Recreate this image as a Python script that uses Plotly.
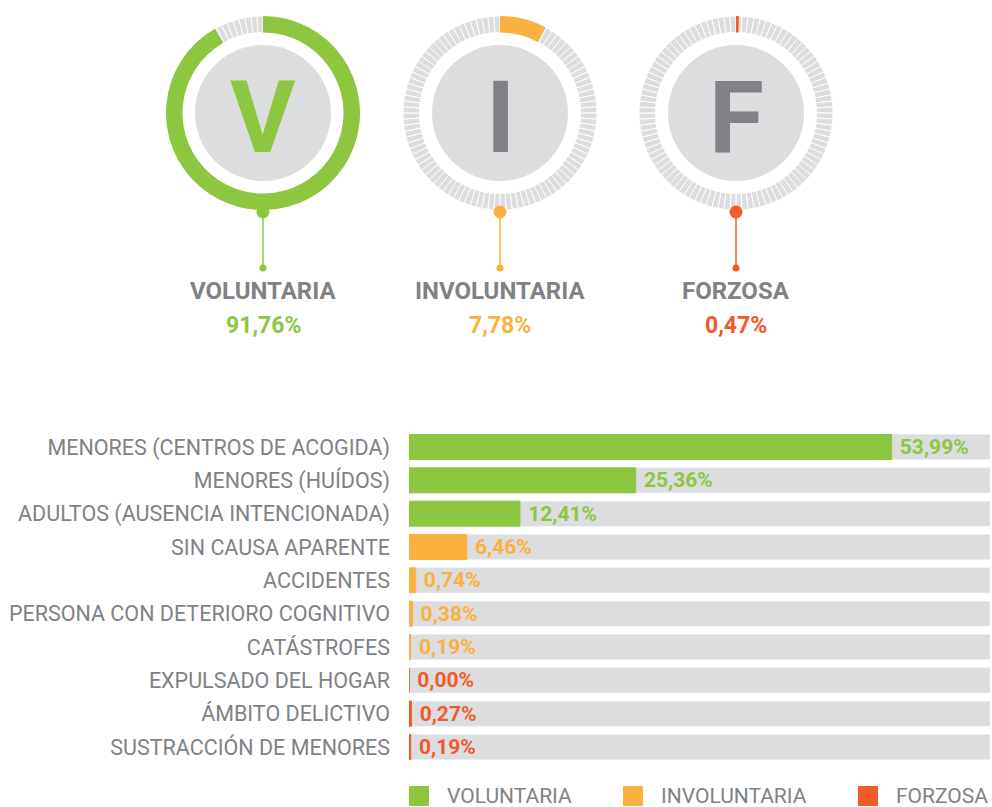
import plotly.graph_objects as go

# ---- data ----
types = ["VOLUNTARIA", "INVOLUNTARIA", "FORZOSA"]
type_pct = [91.76, 7.78, 0.47]
type_letter = ["V", "I", "F"]
type_colors = ["#8dc63f", "#fbb040", "#f15a29"]

causes = [
    "MENORES (CENTROS DE ACOGIDA)",
    "MENORES (HUÍDOS)",
    "ADULTOS (AUSENCIA INTENCIONADA)",
    "SIN CAUSA APARENTE",
    "ACCIDENTES",
    "PERSONA CON DETERIORO COGNITIVO",
    "CATÁSTROFES",
    "EXPULSADO DEL HOGAR",
    "ÁMBITO DELICTIVO",
    "SUSTRACCIÓN DE MENORES",
]
cause_pct = [53.99, 25.36, 12.41, 6.46, 0.74, 0.38, 0.19, 0.00, 0.27, 0.19]
cause_type = ["VOLUNTARIA"] * 3 + ["INVOLUNTARIA"] * 4 + ["FORZOSA"] * 3

GRAY = "#dcddde"
TEXT_GRAY = "#808285"
FONT = "Roboto"
W, H = 992, 807
XMAX = 65  # width of the grey track, in %

def px(x):
    return x / W

def py(y):
    return 1 - y / H

def fmt(v):
    return "{:.2f}".format(v).replace(".", ",") + "%"

fig = go.Figure()

# ---- donuts ----
centers = [263, 500, 736]
CY, R, R_IN = 113, 97, 68
shapes = []
annotations = []
for i, name in enumerate(types):
    cx = centers[i]
    dom = dict(x=[px(cx - R), px(cx + R)], y=[py(CY + R), py(CY - R)])
    # segmented grey ring (one tick per percent)
    fig.add_trace(go.Pie(values=[1] * 100, marker=dict(colors=[GRAY] * 100, line=dict(color="white", width=1)),
                         hole=0.83, domain=dom, sort=False, textinfo="none", hoverinfo="skip",
                         showlegend=False, direction="clockwise"))
    fig.add_trace(go.Pie(values=[type_pct[i], 100 - type_pct[i]],
                         marker=dict(colors=[type_colors[i], "rgba(0,0,0,0)"], line=dict(width=0)),
                         hole=0.83, domain=dom, sort=False, textinfo="none", hoverinfo="skip",
                         showlegend=False, direction="clockwise"))
    shapes.append(dict(type="circle", xref="paper", yref="paper", x0=px(cx - R_IN), x1=px(cx + R_IN),
                       y0=py(CY + R_IN), y1=py(CY - R_IN), fillcolor=GRAY, line=dict(width=0)))
    letter_color = type_colors[i] if i == 0 else TEXT_GRAY
    annotations.append(dict(x=px(cx), y=py(CY + 4), xref="paper", yref="paper", text=type_letter[i],
                            showarrow=False, xanchor="center", yanchor="middle",
                            font=dict(family=FONT, size=100, color=letter_color, weight="bold")))
    # pin
    shapes.append(dict(type="line", xref="paper", yref="paper", x0=px(cx), x1=px(cx), y0=py(212), y1=py(268),
                       line=dict(color=type_colors[i], width=1.5)))
    shapes.append(dict(type="circle", xref="paper", yref="paper", x0=px(cx - 6.5), x1=px(cx + 6.5),
                       y0=py(218.5), y1=py(205.5), fillcolor=type_colors[i], line=dict(width=0)))
    shapes.append(dict(type="circle", xref="paper", yref="paper", x0=px(cx - 3.5), x1=px(cx + 3.5),
                       y0=py(271.5), y1=py(264.5), fillcolor=type_colors[i], line=dict(width=0)))
    annotations.append(dict(x=px(cx), y=py(291), xref="paper", yref="paper", text=name, showarrow=False,
                            xanchor="center", yanchor="middle",
                            font=dict(family=FONT, size=24, color=TEXT_GRAY, weight="bold")))
    annotations.append(dict(x=px(cx), y=py(325), xref="paper", yref="paper", text=fmt(type_pct[i]),
                            showarrow=False, xanchor="center", yanchor="middle",
                            font=dict(family=FONT, size=23, color=type_colors[i], weight="bold")))

# ---- bars ----
fig.add_trace(go.Bar(y=causes, x=[XMAX] * len(causes), orientation="h", marker=dict(color=GRAY),
                     hoverinfo="skip", showlegend=False))
for name, color in zip(types, type_colors):
    ys = [c for c, t in zip(causes, cause_type) if t == name]
    xs = [v for v, t in zip(cause_pct, cause_type) if t == name]
    fig.add_trace(go.Bar(y=ys, x=xs, orientation="h", name=name,
                         marker=dict(color=color, line=dict(color=color, width=1)),
                         text=[" " + fmt(v) for v in xs], textposition="outside", cliponaxis=False,
                         textfont=dict(family=FONT, size=21, color=color, weight="bold"),
                         showlegend=False))

# ---- legend (drawn by hand) ----
leg_x = [409, 623, 858]
for name, color, lx in zip(types, type_colors, leg_x):
    shapes.append(dict(type="rect", xref="paper", yref="paper", x0=px(lx), x1=px(lx + 20),
                       y0=py(806), y1=py(786), fillcolor=color, line=dict(width=0)))
    annotations.append(dict(x=px(lx + 36), y=py(796), xref="paper", yref="paper", text=name, showarrow=False,
                            xanchor="left", yanchor="middle",
                            font=dict(family=FONT, size=21, color=TEXT_GRAY)))

fig.update_layout(
    width=W, height=H,
    margin=dict(l=0, r=0, t=0, b=0),
    paper_bgcolor="white", plot_bgcolor="white",
    barmode="overlay", bargap=0.25,
    xaxis=dict(domain=[px(409), px(990)], range=[0, XMAX], visible=False, fixedrange=True),
    yaxis=dict(domain=[py(763.7), py(430.3)], autorange="reversed", showgrid=False, showline=False,
               ticks="", ticklabelstandoff=18,
               tickfont=dict(family=FONT, size=21.5, color=TEXT_GRAY)),
    shapes=shapes,
    annotations=annotations,
    font=dict(family=FONT),
)

# page body has an 8px margin by default, drop it so the figure sits at 0,0
fig.write_html("out.html", config={"displayModeBar": False},
               post_script="document.body.style.margin = '0px';")
